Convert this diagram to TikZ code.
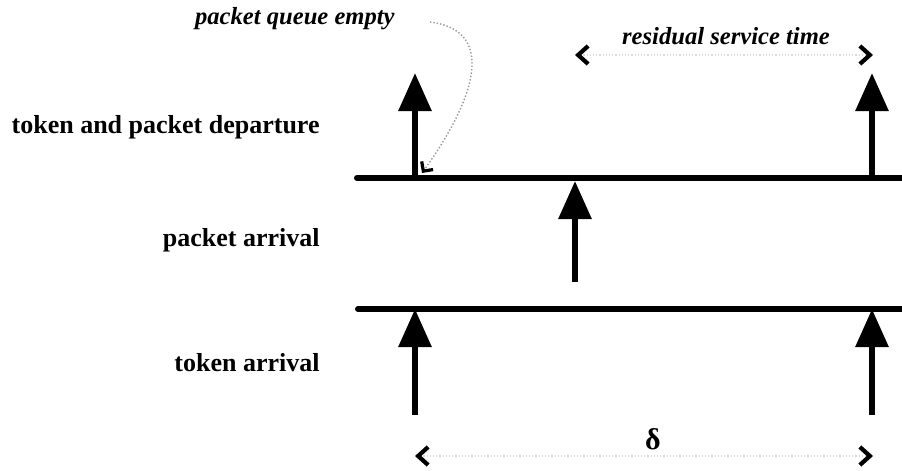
\documentclass[tikz,border=0pt]{standalone}
\usepackage{fontspec}
\setmainfont{Liberation Serif}
\usepackage{tikz}
\usetikzlibrary{arrows.meta, positioning}

\begin{document}
\begin{tikzpicture}[x=0.5pt, y=-0.5pt,
    timeline/.style={line width=3pt, line cap=round},
    event/.style={line width=3pt, -{Triangle[width=16pt, length=19pt]}},
    rowlabel/.style={font=\bfseries\fontsize{13}{15}\selectfont, anchor=east, inner sep=0pt},
    remark/.style={font=\bfseries\itshape\fontsize{12.3}{14}\selectfont, inner sep=0pt},
    chevron/.tip={Straight Barb[black, line width=2.1pt, length=5pt, width=9pt]},
    interval/.style={densely dotted, black!15, line width=0.6pt, chevron-chevron}]
  \useasboundingbox (0,0) rectangle (902,471);

  % time lines
  \coordinate (top0) at (357,178);
  \coordinate (top1) at (905,178);
  \coordinate (bot0) at (358,309);
  \coordinate (bot1) at (905,309);
  \draw[timeline] (top0) -- (top1);
  \draw[timeline] (bot0) -- (bot1);

  % events
  \coordinate (dep1) at (415,73);
  \coordinate (dep2) at (872,73);
  \coordinate (pkt0) at (575,282);
  \coordinate (pkt1) at (575,181);
  \coordinate (tok1) at (415,415);
  \coordinate (tok2) at (872,415);
  \draw[event] (dep1 |- top0) -- (dep1);
  \draw[event] (dep2 |- top0) -- (dep2);
  \draw[event] (pkt0) -- (pkt1);
  \draw[event] (tok1) -- (tok1 |- bot0);
  \draw[event] (tok2) -- (tok2 |- bot0);

  \node[rowlabel] (ldep) at (320,127) {token and packet departure};
  \node[rowlabel] (lpkt) at (320,240) {packet arrival};
  \node[rowlabel] (ltok) at (320,363) {token arrival};

  % intervals
  \coordinate (res0) at (575,55);
  \coordinate (res1) at (873,55);
  \coordinate (del0) at (415,456);
  \coordinate (del1) at (873,456);
  \draw[interval] (res0) -- (res1);
  \draw[interval] (del0) -- (del1);
  \node[remark] (lres) at (726,36) {residual service time};
  \node[font=\bfseries\fontsize{15}{17}\selectfont, inner sep=0pt] (ldel) at (653,439) {δ};

  % empty queue note
  \node[remark, anchor=east] (lqueue) at (395,19) {packet queue empty};
  \coordinate (q0) at (430,22);
  \coordinate (q1) at (422,173);
  \draw[densely dotted, black!40, line width=0.7pt, -{Straight Barb[black, line width=1.6pt, length=3.5pt, width=7pt]}]
    (q0) .. controls (495,30) and (478,95) .. (q1);
\end{tikzpicture}
\end{document}
